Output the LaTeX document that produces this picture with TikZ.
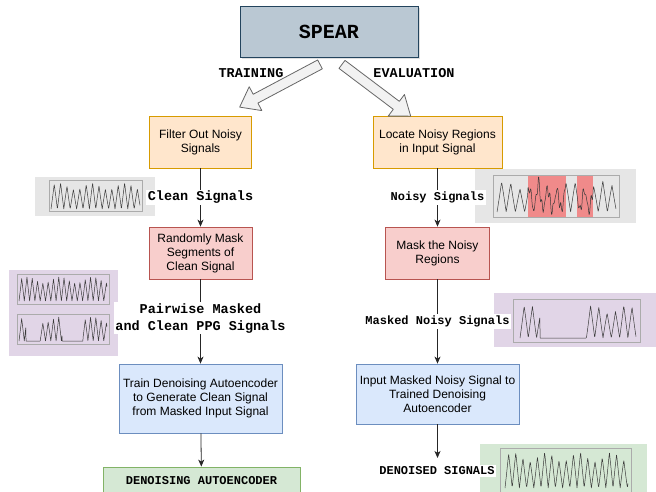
\documentclass[tikz,border=0pt]{standalone}
\usepackage{fontspec}
\setmainfont{Liberation Sans}
\setmonofont{Liberation Mono}
\usetikzlibrary{arrows.meta,calc,shadows}

\definecolor{spearfill}{HTML}{BAC8D3}
\definecolor{spearline}{HTML}{23445D}
\definecolor{orangefill}{HTML}{FFE6CC}
\definecolor{orangeline}{HTML}{D79B00}
\definecolor{redfill}{HTML}{F8CECC}
\definecolor{redline}{HTML}{B85450}
\definecolor{bluefill}{HTML}{DAE8FC}
\definecolor{blueline}{HTML}{6C8EBF}
\definecolor{greenfill}{HTML}{D5E8D4}
\definecolor{greenline}{HTML}{82B366}
\definecolor{arrowfill}{HTML}{F2F2F2}
\definecolor{arrowline}{HTML}{666666}
\definecolor{graypanel}{HTML}{E6E6E6}
\definecolor{purplepanel}{HTML}{E1D5E7}
\definecolor{noisered}{HTML}{F08A8A}
\definecolor{frameline}{HTML}{ABABAB}
\definecolor{sigline}{HTML}{3A3A3A}

\tikzstyle{box}=[draw,line width=0.8pt,align=center,inner sep=2pt,font=\fontsize{12}{14}\selectfont]
\tikzstyle{spear box}=[box,fill=spearfill,draw=spearline,font=\ttfamily\bfseries\fontsize{20}{24}\selectfont,
                       drop shadow={shadow xshift=2pt,shadow yshift=-2pt,opacity=0.25}]
\tikzstyle{orange box}=[box,fill=orangefill,draw=orangeline]
\tikzstyle{red box}=[box,fill=redfill,draw=redline]
\tikzstyle{blue box}=[box,fill=bluefill,draw=blueline]
\tikzstyle{green box}=[box,fill=greenfill,draw=greenline,font=\ttfamily\bfseries\fontsize{12}{14}\selectfont]
\tikzstyle{flow}=[draw=black!85,line width=0.8pt,-{Stealth[length=7pt,width=6pt,inset=2pt]}]
\tikzstyle{tag}=[fill=white,inner sep=1.5pt,align=center,font=\ttfamily\bfseries\fontsize{12}{14}\selectfont]
\tikzstyle{big tag}=[tag,font=\ttfamily\bfseries\fontsize{13.5}{17}\selectfont]
\tikzstyle{phase}=[font=\ttfamily\bfseries\fontsize{13.5}{16}\selectfont]
\tikzstyle{block arrow}=[draw=arrowline,fill=arrowfill,line width=0.8pt,line join=round]
\tikzstyle{frame}=[draw=frameline,line width=0.6pt]
\tikzstyle{sig}=[draw=sigline,line width=0.5pt,line join=round]

% start, end, bottom, height, period, flat mask, noise mask
\newcommand{\sigwave}[7]{%
  \draw[sig] plot[domain=#1:#2,samples=300]
    (\x,{#3-(1-(#6))*#4*(asin(abs(sin((180/#5)*(\x-#1))))/90)*(0.87+0.13*sin(11*(\x-#1)))
         -(#7)*(3.5*sin(97*(\x-#1))+3*sin(131*(\x-#1)))});
}

\begin{document}
\begin{tikzpicture}[x=1pt,y=-1pt]
\useasboundingbox (0,0) rectangle (656,492);

% signal panels
\foreach \col/\a/\b in {graypanel/{(35,177)}/{(155,216)}, purplepanel/{(9,270)}/{(118,356)},
                        graypanel/{(475,169)}/{(636,223)}, purplepanel/{(494,293)}/{(656,347)},
                        greenfill/{(480,444)}/{(647,500)}}{
  \fill[\col] \a rectangle \b;
}
\fill[noisered] (528,175) rectangle (566,217);
\fill[noisered] (577,175) rectangle (593,217);
\foreach \a/\b in {{(49,180)}/{(142,211)}, {(17,274)}/{(109,304)}, {(17,314)}/{(109,344)},
                   {(493,175)}/{(619,217)}, {(513,299)}/{(640,342)}, {(500,448)}/{(631,500)}}{
  \draw[frame] \a rectangle \b;
}
\sigwave{51}{140}{209}{26}{6.4}{0}{0}
\sigwave{19}{107}{301}{24}{5.3}{0}{0}
\sigwave{19}{107}{341}{24}{5.3}{(\x>26)*(\x<40)+(\x>62)*(\x<83)}{0}
\begin{scope}
  \clip (493,175) rectangle (619,217);
  \sigwave{497}{616}{212}{31}{9.2}{0}{(\x>528)*(\x<566)+(\x>577)*(\x<593)}
\end{scope}
\sigwave{520}{636}{338}{33}{8.3}{(\x>540)*(\x<586)}{0}
\sigwave{505}{628}{488}{36}{7.2}{0}{0}

% steps
\node[spear box,minimum width=178,minimum height=51] (spear) at (329,31.5) {SPEAR};
\foreach \pos/\name/\kind/\bw/\bh/\txt in {
    {(200.5,142)/filter/orange box/102/52/{Filter Out Noisy\\Signals}},
    {(200.5,253)/maskclean/red box/103/52/{Randomly Mask\\Segments of\\Clean Signal}},
    {(200.5,398.5)/train/blue box/163/69/{Train Denoising Autoencoder\\to Generate Clean Signal\\from Masked Input Signal}},
    {(201.5,481)/dae/green box/197/28/{DENOISING AUTOENCODER}},
    {(437.5,142)/locate/orange box/129/52/{Locate Noisy Regions\\in Input Signal}},
    {(437.5,253)/masknoisy/red box/104/52/{Mask the Noisy\\Regions}},
    {(437.5,394)/infer/blue box/163/60/{Input Masked Noisy Signal to\\Trained Denoising\\Autoencoder}}}{
  \node[\kind,minimum width=\bw,minimum height=\bh] (\name) at \pos {\txt};
}

% training / evaluation split
\node[phase] (trainlbl) at (251,73) {TRAINING};
\node[phase] (evallbl) at (414,73) {EVALUATION};
\foreach \dx/\ang/\len in {-9/208/91, 13/-37/86}{
  \begin{scope}[shift={($(spear.south)+(\dx,7)$)},rotate=\ang]
    \draw[block arrow] (0,-5) -- (\len-18,-5) -- (\len-18,-13.5) -- (\len,0)
                       -- (\len-18,13.5) -- (\len-18,5) -- (0,5) -- cycle;
  \end{scope}
}

% flow
\coordinate (outtip) at (437.5,458);
\path[flow] (filter) -- node[big tag] (cleanlbl) {Clean Signals} (maskclean);
\path[flow] (maskclean) -- node[big tag,pos=0.46] (pairlbl) {Pairwise Masked\\and Clean PPG Signals} (train);
\path[flow] (train) -- (dae);
\path[flow] (locate) -- node[tag] (noisylbl) {Noisy Signals} (masknoisy);
\path[flow] (masknoisy) -- node[tag] (maskedlbl) {Masked Noisy Signals} (infer);
\path[flow] (infer) -- (outtip);
\node[tag] (denoised) at (437,471) {DENOISED SIGNALS};
\end{tikzpicture}
\end{document}
